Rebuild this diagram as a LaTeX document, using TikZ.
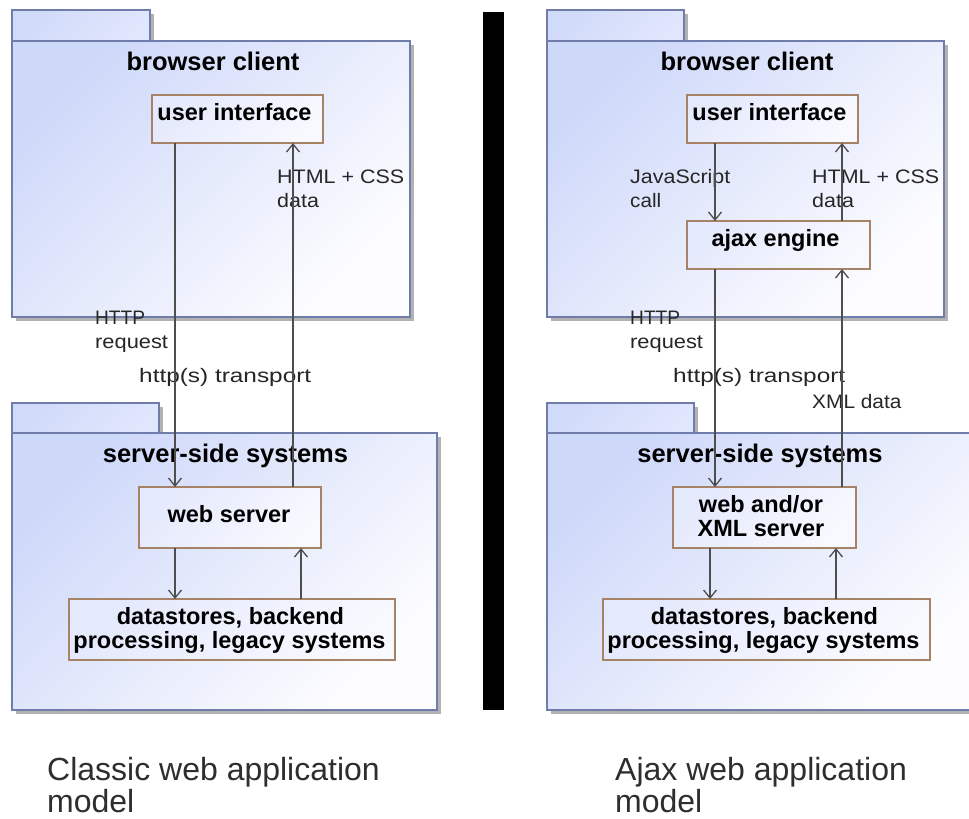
\documentclass[tikz,border=0pt]{standalone}
\usepackage{fontspec}
\setmainfont{Liberation Sans}
\usepackage{graphicx}
\usetikzlibrary{arrows.meta}

\definecolor{pkgline}{RGB}{112,124,170}
\definecolor{pkgtop}{RGB}{206,216,249}
\definecolor{pkgbot}{RGB}{253,253,255}
\definecolor{tabtop}{RGB}{208,218,249}
\definecolor{tabbot}{RGB}{224,230,252}
\definecolor{pkgshadow}{RGB}{178,178,178}
\definecolor{boxline}{RGB}{166,130,102}
\definecolor{boxtop}{RGB}{228,233,252}
\definecolor{boxbot}{RGB}{248,249,255}
\definecolor{wirecol}{RGB}{78,78,78}

% label text, slightly widened
\newcommand\wtxt[2][1.1]{\scalebox{#1}[1]{#2}}

% package outline: tab x1, tab x2, tab top, body top, body x2, body bottom
\newcommand\umlpkg[6]{%
  \fill[pkgshadow] (#1+4,-#3-4) rectangle (#2+4,-#4);
  \fill[pkgshadow] (#1+4,-#4-4) rectangle (#5+4,-#6-4);
  \draw[tabshade] (#1,-#3) rectangle (#2,-#4);
  \draw[pkgshade] (#1,-#4) rectangle (#5,-#6);
}

\tikzset{
  pkgshade/.style={draw=pkgline, line width=2pt, top color=pkgtop, bottom color=pkgbot, shading angle=45},
  tabshade/.style={draw=pkgline, line width=2pt, top color=tabtop, bottom color=tabbot, shading angle=45},
  ibox/.style={draw=boxline, line width=1.6pt, top color=boxtop, bottom color=boxbot, shading angle=45,
               inner sep=0pt, outer sep=0pt, anchor=north west},
  ptitle/.style={font=\fontsize{25.5}{30}\selectfont\bfseries, anchor=base, inner sep=0pt},
  btext/.style={font=\fontsize{23.5}{28}\selectfont\bfseries, anchor=base, inner sep=0pt},
  lbl/.style={font=\fontsize{19.5}{24}\selectfont, anchor=base west, inner sep=0pt, text=black!85},
  caption/.style={font=\fontsize{32}{36}\selectfont, anchor=base west, inner sep=0pt, text=black!82},
  wire/.style={draw=wirecol, line width=1.5pt, -{Straight Barb[length=8pt,width=13pt,line width=1.3pt]}},
}

\begin{document}
\begin{tikzpicture}[x=1pt,y=1pt]
\useasboundingbox (0,0) rectangle (969,-819);
\fill[white] (0,0) rectangle (969,-819);

% ---------- classic model ----------
\umlpkg{12}{150}{10}{41}{410}{317}
\umlpkg{12}{159}{403}{433}{437}{710}
\node[ptitle] (bc1) at (213,-70) {browser client};
\node[ptitle] (ss1) at (225.5,-462) {server-side systems};

\node[ibox, minimum width=171, minimum height=48] (ui1) at (152,-95) {};
\node[ibox, minimum width=182, minimum height=61] (ws1) at (139,-487) {};
\node[ibox, minimum width=326, minimum height=61] (ds1) at (69,-599) {};

\node[btext] (ui1t) at (234.5,-120) {user interface};
\node[btext] (ws1t) at (229,-522) {web server};
\node[btext] (ds1a) at (230.5,-624) {datastores, backend};
\node[btext] (ds1b) at (229.5,-648) {processing, legacy systems};

\node[lbl] (l1a) at (277,-183) {\wtxt{HTML + CSS}};
\node[lbl] (l1b) at (277,-207) {\wtxt{data}};
\node[lbl] (l2a) at (95,-324) {\wtxt[0.98]{HTTP}};
\node[lbl] (l2b) at (95,-348) {\wtxt[1.12]{request}};
\node[lbl] (l3) at (139,-382) {\wtxt[1.25]{http(s) transport}};

\coordinate (xa) at (175,0);
\coordinate (xb) at (293,0);
\coordinate (xc) at (301,0);
\draw[wire] (ui1.south -| xa) -- (ws1.north -| xa);
\draw[wire] (ws1.north -| xb) -- (ui1.south -| xb);
\draw[wire] (ws1.south -| xa) -- (ds1.north -| xa);
\draw[wire] (ds1.north -| xc) -- (ws1.south -| xc);

% ---------- separator ----------
\fill[black] (483,-12) rectangle (504,-710);

% ---------- ajax model ----------
\umlpkg{547}{684}{10}{41}{944}{317}
\umlpkg{547}{694}{403}{433}{973}{710}
\node[ptitle] (bc2) at (747,-70) {browser client};
\node[ptitle] (ss2) at (760,-462) {server-side systems};

\node[ibox, minimum width=171, minimum height=48] (ui2) at (687,-95) {};
\node[ibox, minimum width=183, minimum height=48] (aj2) at (687,-221) {};
\node[ibox, minimum width=183, minimum height=61] (ws2) at (673,-487) {};
\node[ibox, minimum width=327, minimum height=61] (ds2) at (603,-599) {};

\node[btext] (ui2t) at (769.5,-120) {user interface};
\node[btext] (aj2t) at (775.5,-246) {ajax engine};
\node[btext] (ws2a) at (761,-512) {web and/or};
\node[btext] (ws2b) at (761,-536) {XML server};
\node[btext] (ds2a) at (764.5,-624) {datastores, backend};
\node[btext] (ds2b) at (763.5,-648) {processing, legacy systems};

\node[lbl] (m1a) at (630,-183) {\wtxt{JavaScript}};
\node[lbl] (m1b) at (630,-207) {\wtxt[1.06]{call}};
\node[lbl] (m2a) at (812,-183) {\wtxt{HTML + CSS}};
\node[lbl] (m2b) at (812,-207) {\wtxt{data}};
\node[lbl] (m3a) at (630,-324) {\wtxt[0.98]{HTTP}};
\node[lbl] (m3b) at (630,-348) {\wtxt[1.12]{request}};
\node[lbl] (m4) at (673,-382) {\wtxt[1.25]{http(s) transport}};
\node[lbl] (m5) at (812,-408) {\wtxt[1.07]{XML data}};

\coordinate (ya) at (715,0);
\coordinate (yb) at (842,0);
\coordinate (yc) at (710,0);
\coordinate (yd) at (836,0);
\draw[wire] (ui2.south -| ya) -- (aj2.north -| ya);
\draw[wire] (aj2.north -| yb) -- (ui2.south -| yb);
\draw[wire] (aj2.south -| ya) -- (ws2.north -| ya);
\draw[wire] (ws2.north -| yb) -- (aj2.south -| yb);
\draw[wire] (ws2.south -| yc) -- (ds2.north -| yc);
\draw[wire] (ds2.north -| yd) -- (ws2.south -| yd);

% ---------- captions ----------
\node[caption] (c1a) at (47,-780) {Classic web application};
\node[caption] (c1b) at (47,-812) {model};
\node[caption] (c2a) at (615,-780) {Ajax web application};
\node[caption] (c2b) at (615,-812) {model};
\end{tikzpicture}
\end{document}
